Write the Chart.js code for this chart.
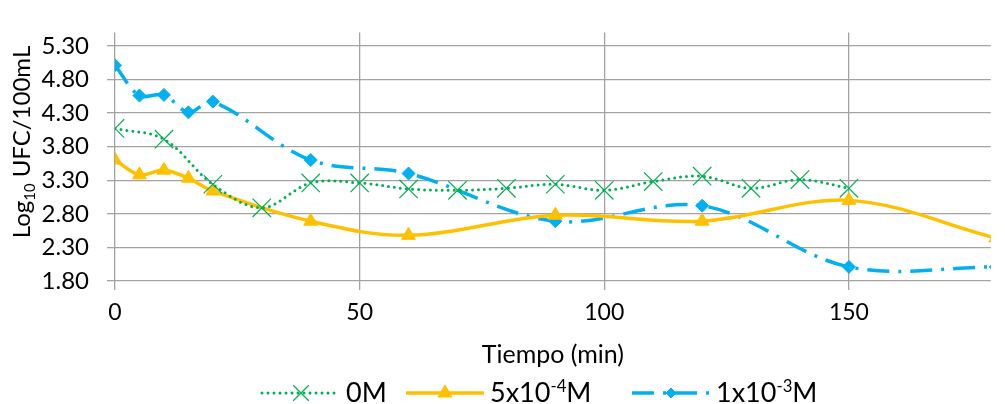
<!DOCTYPE html>
<html>
<head>
<meta charset="utf-8">
<script src="https://cdn.jsdelivr.net/npm/chart.js@4.4.1/dist/chart.umd.min.js"></script>
<style>
  html, body { margin: 0; padding: 0; background: #fff; }
  #wrap { width: 1005px; height: 404px; position: relative; }
</style>
</head>
<body>
<div id="wrap"><canvas id="ufcChart"></canvas></div>
<script>
// tiempos de muestreo (min) y recuentos log10 UFC/100mL
const tiempos0M = [0, 10, 20, 30, 40, 50, 60, 70, 80, 90, 100, 110, 120, 130, 140, 150];
const valores0M = [4.07, 3.91, 3.24, 2.89, 3.26, 3.26, 3.17, 3.15, 3.18, 3.24, 3.15, 3.28, 3.36, 3.18, 3.31, 3.18];

const tiemposTrat = [0, 5, 10, 15, 20, 40, 60, 90, 120, 150, 180];
const valores5e4M = [3.60, 3.38, 3.45, 3.33, 3.14, 2.69, 2.48, 2.78, 2.69, 3.00, 2.44];
const valores1e3M = [5.01, 4.56, 4.57, 4.31, 4.47, 3.60, 3.40, 2.69, 2.92, 2.01, 2.01];

const ticksX = [0, 50, 100, 150];
const ticksY = [1.80, 2.30, 2.80, 3.30, 3.80, 4.30, 4.80, 5.30];

// etiquetas con superíndices: [texto, tipo]
const etiqueta0M = [['0M', 'n']];
const etiqueta5e4M = [['5x10', 'n'], ['-4', 'sup'], ['M', 'n']];
const etiqueta1e3M = [['1x10', 'n'], ['-3', 'sup'], ['M', 'n']];
const tituloY = [['Log', 'n'], ['10', 'sub'], [' UFC/100mL', 'n']];

const FUENTE = 'Lato, "Open Sans", sans-serif';
const GRIS = '#a3a3a3';

function puntos(xs, ys) {
    return xs.map((x, i) => ({ x: x, y: ys[i] }));
}

// texto con sub/superíndice
function medirTexto(ctx, partes, size) {
    let w = 0;
    partes.forEach(([txt, tipo]) => {
        ctx.font = (tipo === 'n' ? size : size * 0.62) + 'px ' + FUENTE;
        w += ctx.measureText(txt).width;
    });
    return w;
}

function dibujarTexto(ctx, partes, x, y, size) {
    let cx = x;
    partes.forEach(([txt, tipo]) => {
        const s = tipo === 'n' ? size : size * 0.62;
        ctx.font = s + 'px ' + FUENTE;
        let dy = 0;
        if (tipo === 'sup') dy = -size * 0.36;
        if (tipo === 'sub') dy = size * 0.2;
        ctx.fillText(txt, cx, y + dy);
        cx += ctx.measureText(txt).width;
    });
    return cx;
}

// título del eje Y y leyenda inferior
const extras = {
    id: 'extras',
    afterDraw(chart) {
        const ctx = chart.ctx;
        ctx.save();
        ctx.fillStyle = '#000';
        ctx.textBaseline = 'alphabetic';
        ctx.textAlign = 'left';

        ctx.save();
        ctx.translate(30, 142);
        ctx.rotate(-Math.PI / 2);
        const w = medirTexto(ctx, tituloY, 24);
        dibujarTexto(ctx, tituloY, -w / 2, 0, 24);
        ctx.restore();

        const etiquetas = [etiqueta0M, etiqueta5e4M, etiqueta1e3M];
        const inicios = [262, 406, 632];
        const yLinea = 393;
        const largo = 78;
        chart.data.datasets.forEach((ds, i) => {
            const x = inicios[i];
            ctx.save();
            ctx.strokeStyle = ds.borderColor;
            ctx.lineWidth = ds.borderWidth;
            ctx.lineCap = ds.borderCapStyle || 'butt';
            ctx.setLineDash(ds.borderDash || []);
            ctx.beginPath();
            ctx.moveTo(x, yLinea);
            ctx.lineTo(x + largo, yLinea);
            ctx.stroke();
            ctx.setLineDash([]);
            ctx.lineCap = 'butt';
            ctx.lineWidth = ds.pointBorderWidth;
            ctx.fillStyle = ds.backgroundColor;
            ctx.strokeStyle = ds.pointBorderColor || ds.borderColor;
            Chart.helpers.drawPoint(ctx, {
                pointStyle: ds.pointStyle,
                radius: ds.legendRadius,
                rotation: 0,
                borderWidth: ds.pointBorderWidth
            }, x + largo / 2, yLinea);
            ctx.restore();
            ctx.fillStyle = '#000';
            dibujarTexto(ctx, etiquetas[i], x + largo + 6, 402, 27);
        });
        ctx.restore();
    }
};

const ctx = document.getElementById('ufcChart').getContext('2d');

new Chart(ctx, {
    type: 'line',
    data: {
        datasets: [{
            label: '0M',
            data: puntos(tiempos0M, valores0M),
            borderColor: '#00B050',
            backgroundColor: '#00B050',
            borderWidth: 3,
            borderDash: [0, 6],
            borderCapStyle: 'round',
            pointStyle: 'crossRot',
            pointRadius: 13,
            legendRadius: 11,
            pointBorderWidth: 1.2,
            pointBorderColor: '#00B050'
        }, {
            label: '5x10-4M',
            data: puntos(tiemposTrat, valores5e4M),
            borderColor: '#FFC000',
            backgroundColor: '#FFC000',
            borderWidth: 3.5,
            pointStyle: 'triangle',
            pointRadius: 8,
            legendRadius: 8,
            pointBorderWidth: 1,
            pointBorderColor: '#FFC000'
        }, {
            label: '1x10-3M',
            data: puntos(tiemposTrat, valores1e3M),
            borderColor: '#00B0F0',
            backgroundColor: '#00B0F0',
            borderWidth: 3.5,
            borderDash: [22, 9, 3, 9],
            pointStyle: 'rectRot',
            pointRadius: 6.5,
            legendRadius: 5,
            pointBorderWidth: 1,
            pointBorderColor: '#00B0F0'
        }]
    },
    options: {
        responsive: true,
        maintainAspectRatio: false,
        animation: false,
        layout: { padding: { top: 13, left: 0, right: 0, bottom: 0 } },
        elements: {
            line: { tension: 0.35, capBezierPoints: false, fill: false }
        },
        plugins: {
            legend: { display: false },
            tooltip: { enabled: false }
        },
        scales: {
            x: {
                type: 'linear',
                min: 0,
                max: 179,
                afterBuildTicks: s => { s.ticks = ticksX.map(v => ({ value: v })); },
                afterFit: s => { s.height = 123; },
                grid: { color: GRIS, lineWidth: 1.3, tickLength: 9 },
                border: { display: false },
                ticks: {
                    font: { family: FUENTE, size: 23 },
                    color: '#000',
                    padding: 9,
                    maxRotation: 0
                },
                title: {
                    display: true,
                    text: 'Tiempo (min)',
                    color: '#000',
                    font: { family: FUENTE, size: 25 },
                    padding: { top: 0, bottom: 34 }
                }
            },
            y: {
                type: 'linear',
                min: 1.8,
                max: 5.5,
                afterBuildTicks: s => { s.ticks = ticksY.map(v => ({ value: v })); },
                afterFit: s => { s.width = 115; },
                grid: { color: GRIS, lineWidth: 1.3, tickLength: 8 },
                border: { display: false },
                ticks: {
                    font: { family: FUENTE, size: 24 },
                    color: '#000',
                    padding: 18,
                    callback: v => v.toFixed(2)
                }
            }
        }
    },
    plugins: [extras]
});
</script>
</body>
</html>
